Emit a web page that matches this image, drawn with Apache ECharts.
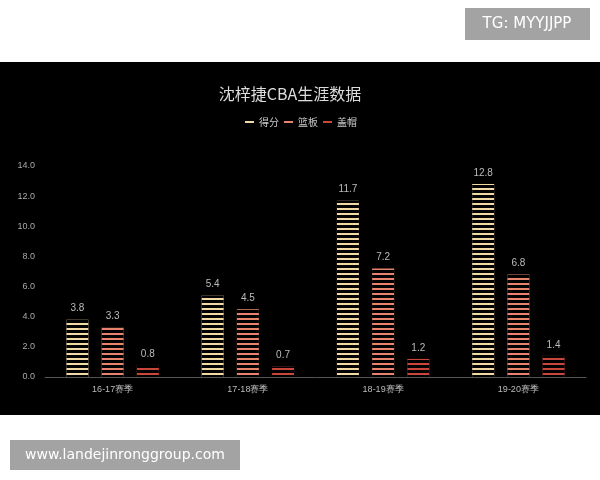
<!DOCTYPE html><html><head><meta charset="utf-8"><script src="https://cdn.jsdelivr.net/npm/echarts@6/dist/echarts.min.js"></script><style>body{margin:0;background:#fff}#c{width:600px;height:480px}</style></head><body><div id="c"></div><script>
var categories=['16-17赛季','17-18赛季','18-19赛季','19-20赛季'];
var points=[3.8,5.4,11.7,12.8];
var rebounds=[3.3,4.5,7.2,6.8];
var blocks=[0.8,0.7,1.2,1.4];
var seriesNames=['得分','篮板','盖帽'];
var colors=['#f2d8a2','#e8846c','#c9463a'];
var decal={color:'#000',symbol:'rect',symbolSize:1,dashArrayX:[1,0],dashArrayY:[2.6,1.6],rotation:0};
function s(name,data,color){return {name:name,type:'bar',data:data,barWidth:22,barGap:'60%',itemStyle:{color:color,decal:decal},label:{show:true,position:'top',color:'#bbb',fontSize:10,distance:6,formatter:function(p){return p.value.toFixed(1);}}};}
var ch=echarts.init(document.getElementById('c'));
ch.setOption({backgroundColor:'#fff',animation:false,
graphic:[{type:'rect',shape:{x:0,y:62,width:600,height:353},style:{fill:'#000'},z:-10},
{type:'rect',shape:{x:465,y:8,width:125,height:32},style:{fill:'#a3a3a3'}},
{type:'text',x:527,y:24,style:{text:'TG: MYYJJPP',fill:'#fff',font:'15px "DejaVu Sans"',align:'center',verticalAlign:'middle'}},
{type:'rect',shape:{x:10,y:440,width:230,height:30},style:{fill:'#a3a3a3'}},
{type:'text',x:125,y:455,style:{text:'www.landejinronggroup.com',fill:'#fff',font:'14px "DejaVu Sans"',align:'center',verticalAlign:'middle'}}],
title:{text:'沈梓捷CBA生涯数据',left:285,textAlign:'center',top:81,textStyle:{color:'#ddd',fontSize:16,fontWeight:'normal',fontFamily:'Noto Sans CJK SC'}},
legend:{data:seriesNames,top:112,left:240,icon:'rect',itemWidth:9,itemHeight:8,itemGap:5,textStyle:{color:'#ccc',fontSize:10,fontFamily:'Noto Sans CJK SC'}},
grid:{left:45,right:14,top:166,bottom:103},
xAxis:{type:'category',data:categories,axisLine:{lineStyle:{color:'#555'}},axisTick:{show:false},axisLabel:{color:'#bbb',fontSize:9,margin:8}},
yAxis:{type:'value',min:0,max:14,interval:2,splitLine:{show:false},axisLabel:{color:'#aaa',fontSize:9,margin:10,formatter:function(v){return v.toFixed(1);}}},
series:[s(seriesNames[0],points,colors[0]),s(seriesNames[1],rebounds,colors[1]),s(seriesNames[2],blocks,colors[2])]
});
</script></body></html>
